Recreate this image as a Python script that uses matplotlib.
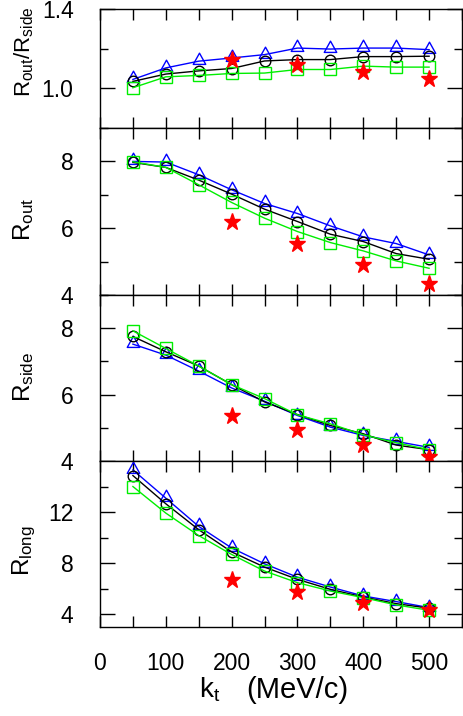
import numpy as np
import matplotlib
matplotlib.use("Agg")
import matplotlib.pyplot as plt
from matplotlib.path import Path
from matplotlib.ticker import MultipleLocator, FixedLocator

plt.rcParams['font.family'] = ['Liberation Sans', 'DejaVu Sans']
plt.rcParams['mathtext.fontset'] = 'custom'
plt.rcParams['mathtext.rm'] = 'Liberation Sans'
plt.rcParams['mathtext.it'] = 'Liberation Sans:italic'

# transverse pair momentum (MeV/c)
kt = [50, 100, 150, 200, 250, 300, 350, 400, 450, 500]
kt_star = [200, 300, 400, 500]

# Rout / Rside
ratio_blue = [1.045, 1.103, 1.137, 1.153, 1.17, 1.203, 1.198, 1.203, 1.203, 1.195]
ratio_black = [1.035, 1.072, 1.088, 1.10, 1.138, 1.145, 1.145, 1.16, 1.16, 1.162]
ratio_green = [1.003, 1.058, 1.065, 1.075, 1.077, 1.095, 1.095, 1.112, 1.107, 1.107]
ratio_star = [1.145, 1.12, 1.082, 1.045]

# Rout
rout_blue = [8.0, 7.98, 7.6, 7.15, 6.74, 6.44, 6.07, 5.74, 5.54, 5.2]
rout_black = [7.97, 7.82, 7.44, 7.02, 6.57, 6.2, 5.82, 5.6, 5.24, 5.07]
rout_green = [7.99, 7.82, 7.3, 6.77, 6.3, 5.9, 5.57, 5.32, 5.02, 4.8]
rout_star = [6.19, 5.52, 4.9, 4.34]

# Rside
rside_blue = [7.52, 7.19, 6.71, 6.2, 5.8, 5.37, 5.02, 4.77, 4.59, 4.41]
rside_black = [7.75, 7.29, 6.86, 6.3, 5.78, 5.4, 5.07, 4.82, 4.48, 4.34]
rside_green = [7.92, 7.39, 6.86, 6.3, 5.88, 5.39, 5.12, 4.79, 4.55, 4.34]
rside_star = [5.37, 4.92, 4.48, 4.11]

# Rlong
rlong_blue = [15.3, 13.09, 10.88, 9.19, 7.95, 6.9, 6.13, 5.43, 4.99, 4.52]
rlong_black = [14.86, 12.65, 10.62, 8.88, 7.69, 6.73, 5.95, 5.35, 4.83, 4.47]
rlong_green = [14.0, 11.92, 10.16, 8.68, 7.38, 6.47, 5.82, 5.3, 4.73, 4.31]
rlong_star = [6.68, 5.77, 4.91, 4.31]

panels = [
    (ratio_blue, ratio_black, ratio_green, ratio_star),
    (rout_blue, rout_black, rout_green, rout_star),
    (rside_blue, rside_black, rside_green, rside_star),
    (rlong_blue, rlong_black, rlong_green, rlong_star),
]
ylims = [(0.8, 1.4), (4, 9), (4, 9), (3, 16)]
ymajor = [[1.0, 1.4], [4, 6, 8], [4, 6, 8], [4, 8, 12]]
yminor = [[1.2], [5, 7, 9], [5, 7, 9], [6, 10, 14]]
ylabels = [r"R$_{\rm out}$/R$_{\rm side}$", r"R$_{\rm out}$",
           r"R$_{\rm side}$", r"R$_{\rm long}$"]
label_start = [97, 241, 402, 576]
label_size = [16, 17.5, 17.5, 17.5]

# triangle with the data point near its base, like the original
tri = Path([(0, 1), (-0.75, -0.35), (0.75, -0.35), (0, 1), (0, 1)],
           [Path.MOVETO, Path.LINETO, Path.LINETO, Path.LINETO, Path.CLOSEPOLY])

W, H = 464, 716
fig = plt.figure(figsize=(W / 100, H / 100), dpi=100)
bounds = [(9, 128), (128, 295), (295, 461), (461, 627)]
x0, x1 = 100, 462

for i, (top, bot) in enumerate(bounds):
    ax = fig.add_axes([x0 / W, 1 - bot / H, (x1 - x0) / W, (bot - top) / H])
    blue, black, green, star = panels[i]
    ax.plot(kt, blue, color='blue', lw=1.0, marker=tri, ms=12,
            mfc='none', mec='blue', mew=1.0, clip_on=False)
    ax.plot(kt, black, color='black', lw=1.0, marker='o', ms=7.6,
            mfc='none', mec='black', mew=1.0, clip_on=False)
    ax.plot(kt, green, color='#00ee00', lw=1.0, marker='s', ms=8.4,
            mfc='none', mec='#00ee00', mew=1.0, clip_on=False)
    ax.plot(kt_star, star, ls='none', marker='*', ms=12.5, color='red',
            mec='red', clip_on=False, zorder=5)

    ax.set_xlim(0, 550)
    ax.set_ylim(*ylims[i])
    ax.xaxis.set_major_locator(MultipleLocator(100))
    ax.xaxis.set_minor_locator(MultipleLocator(50))
    ax.yaxis.set_major_locator(FixedLocator(ymajor[i]))
    ax.yaxis.set_minor_locator(FixedLocator(yminor[i]))
    if i == 0:
        ax.set_yticklabels(["1.0", "1.4"])
    ax.tick_params(axis='both', which='both', direction='in',
                   top=True, right=True, width=1.0, labelsize=16.5)
    ax.tick_params(axis='x', which='both', length=8)
    ax.tick_params(axis='y', which='major', length=10.8, pad=19)
    ax.tick_params(axis='y', which='minor', length=5.8)
    ax.tick_params(axis='x', pad=18)
    for s in ax.spines.values():
        s.set_linewidth(1.0)
    if i < 3:
        ax.tick_params(axis='x', labelbottom=False)

    fig.text(24 / W, 1 - label_start[i] / H, ylabels[i], rotation=90,
             ha='center', va='bottom', fontsize=label_size[i])

# x axis title, wide spacing as in the original
fig.text(210 / W, 1 - 690 / H, r"k$_{\rm t}$", ha='center', va='center',
         fontsize=20)
fig.text(297 / W, 1 - 690 / H, "(MeV/c)", ha='center', va='center',
         fontsize=21)

fig.savefig("out.png", dpi=100)
